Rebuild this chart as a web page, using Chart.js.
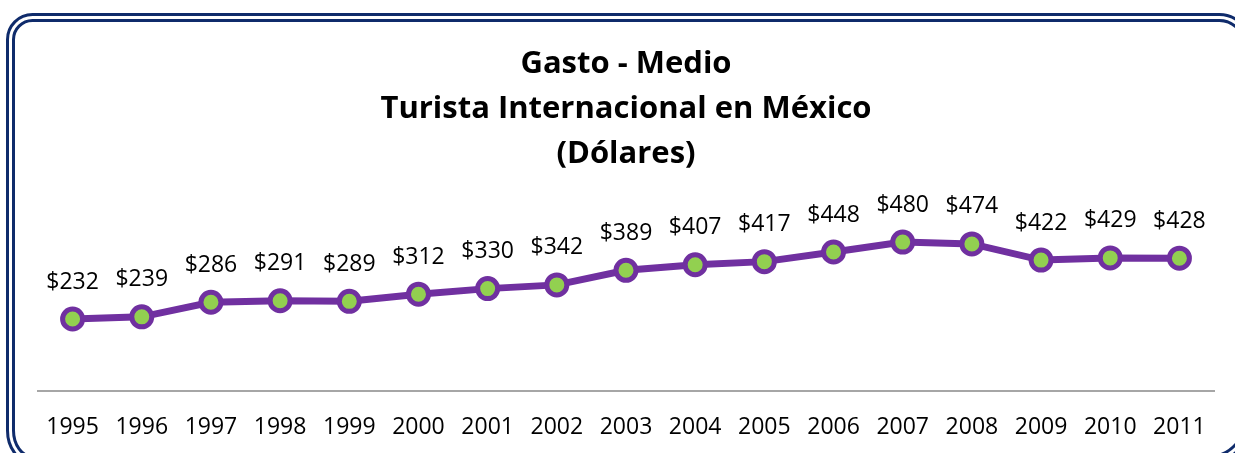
<!DOCTYPE html>
<html>
<head>
<meta charset="utf-8">
<script src="https://cdn.jsdelivr.net/npm/chart.js@4"></script>
<style>
  html, body { margin: 0; padding: 0; background: #fff; overflow: hidden; }
  canvas { display: block; }
</style>
</head>
<body>
<canvas id="chart" width="1235" height="453"></canvas>
<script>
const years = ['1995', '1996', '1997', '1998', '1999', '2000', '2001', '2002', '2003',
               '2004', '2005', '2006', '2007', '2008', '2009', '2010', '2011'];
const gasto = [232, 239, 286, 291, 289, 312, 330, 342, 389, 407, 417, 448, 480, 474, 422, 429, 428];
const titleLines = ['Gasto - Medio', 'Turista Internacional en México', '(Dólares)'];

const FONT = "'Open Sans', 'DejaVu Sans', sans-serif";

// double navy frame round the whole chart (runs off the right/bottom edge)
const frame = {
    id: 'frame',
    beforeDraw(chart) {
        const ctx = chart.ctx;
        ctx.save();
        ctx.strokeStyle = '#0f2b6b';
        ctx.lineWidth = 3;
        [0, 6].forEach(d => {
            ctx.beginPath();
            ctx.roundRect(7.5 + d, 14.5 + d, 1246 - 2 * d, 448 - 2 * d, [
                25 - d,
                { x: 34 - d, y: 40 - d },
                { x: 44 - d, y: 50 - d },
                { x: 25 - d, y: 32 - d }
            ]);
            ctx.stroke();
        });
        ctx.restore();
    }
};

// dollar labels over each point
const valueLabels = {
    id: 'valueLabels',
    afterDatasetsDraw(chart) {
        const ctx = chart.ctx;
        const meta = chart.getDatasetMeta(0);
        ctx.save();
        ctx.font = '23px ' + FONT;
        ctx.fillStyle = '#000';
        ctx.textAlign = 'center';
        ctx.textBaseline = 'middle';
        meta.data.forEach((pt, i) => {
            ctx.fillText('$' + gasto[i], pt.x, pt.y - 37);
        });
        ctx.restore();
    }
};

const ctx = document.getElementById('chart').getContext('2d');
new Chart(ctx, {
    type: 'line',
    data: {
        labels: years,
        datasets: [{
            data: gasto,
            borderColor: '#7030a0',
            borderWidth: 7,
            pointRadius: 10,
            pointHoverRadius: 10,
            pointBorderWidth: 5,
            pointBackgroundColor: '#92d050',
            pointBorderColor: '#7030a0',
            tension: 0,
            clip: false
        }]
    },
    options: {
        responsive: false,
        animation: false,
        layout: { padding: { left: 38, right: 21, top: 0, bottom: 0 } },
        plugins: {
            legend: { display: false },
            tooltip: { enabled: false },
            title: {
                display: true,
                text: titleLines,
                color: '#000',
                font: { family: FONT, size: 31, weight: 'bold', lineHeight: 1.45 },
                padding: { top: 42, bottom: 28 }
            }
        },
        scales: {
            x: {
                offset: true,
                grid: { display: false, drawTicks: false },
                border: { display: true, color: '#a6a6a6', width: 2 },
                ticks: { color: '#000', font: { family: FONT, size: 23 }, padding: 23, maxRotation: 0, autoSkip: false },
                afterFit(scale) { scale.height = 62; }
            },
            y: {
                display: false,
                min: 0,
                max: 600
            }
        }
    },
    plugins: [frame, valueLabels]
});
</script>
</body>
</html>
